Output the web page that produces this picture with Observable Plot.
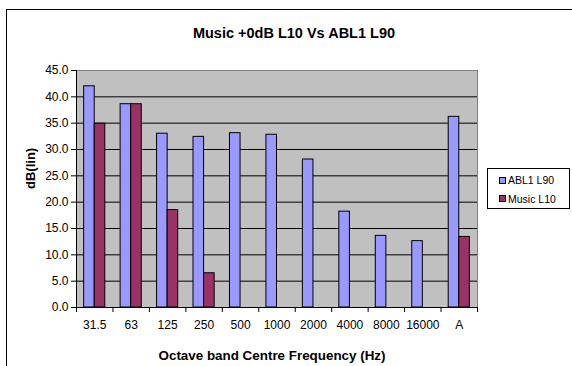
<!DOCTYPE html>
<html>
<head>
<meta charset="utf-8">
<script src="https://cdn.jsdelivr.net/npm/d3@7"></script>
<script src="https://cdn.jsdelivr.net/npm/@observablehq/plot@0.6"></script>
<style>
  body { margin: 0; background: #fff; font-family: "Liberation Sans", Arial, sans-serif; }
  #chart { position: relative; width: 572px; height: 366px; overflow: hidden; background: #fff; }
  #chart svg { position: absolute; left: 0; top: 0; }
  #border { position: absolute; left: 6px; top: 9px; width: 640px; height: 440px; border: 1px solid #000; }
  #title { position: absolute; left: 0; top: 25px; width: 588px; text-align: center;
           font-weight: bold; font-size: 14.5px; color: #000; }
  #legend { position: absolute; left: 487px; top: 168px; width: 83px; height: 41px;
            border: 1px solid #000; background: #fff; font-size: 10.5px; color: #000; box-sizing: border-box; }
  .item { position: absolute; left: 11px; display: flex; align-items: center; white-space: nowrap; }
  .sw { width: 5px; height: 5px; border: 1px solid #000; margin-right: 2px; }
</style>
</head>
<body>
<div id="chart">
  <div id="border"></div>
  <div id="title">Music +0dB L10 Vs ABL1 L90</div>
  <div id="legend"></div>
</div>
<script>
// Octave band centre frequencies, plus the A-weighted overall level
const freqs = ["31.5", "63", "125", "250", "500", "1000", "2000", "4000", "8000", "16000", "A"];
// Background noise, ABL1 L90, dB(lin)
const abl1L90 = [42.0, 38.6, 33.0, 32.4, 33.1, 32.8, 28.1, 18.2, 13.6, 12.6, 36.2];
// Music +0dB, L10, dB(lin) (no level in the upper bands)
const musicL10 = [34.9, 38.6, 18.5, 6.5, null, null, null, null, null, null, 13.4];
const seriesNames = ["ABL1 L90", "Music L10"];
const seriesColors = ["#9999ff", "#993366"];
const yTicks = [0, 5, 10, 15, 20, 25, 30, 35, 40, 45];
const yTickLabels = ["0.0", "5.0", "10.0", "15.0", "20.0", "25.0", "30.0", "35.0", "40.0", "45.0"];

const width = 572, height = 366;
const marginLeft = 76, marginRight = 95, marginTop = 70, marginBottom = 59;
const paddingInner = 0.42, paddingOuter = 0.21;
// width of one category slot and of the bar group inside it (d3 band scale geometry)
const step = (width - marginLeft - marginRight) / (freqs.length - paddingInner + 2 * paddingOuter);
const groupWidth = step * (1 - paddingInner);

const rows = freqs.map((f, i) => ({freq: f, abl: abl1L90[i], music: musicL10[i]}));

const chart = Plot.plot({
  width, height, marginLeft, marginRight, marginTop, marginBottom,
  style: {fontFamily: "'Liberation Sans', Arial, sans-serif", color: "#000", background: "transparent"},
  x: {type: "band", domain: freqs, paddingInner, paddingOuter, round: false, axis: null},
  y: {domain: [0, 45], axis: null},
  marks: [
    Plot.frame({fill: "#c0c0c0", stroke: "#808080"}),
    Plot.gridY(yTicks.filter(v => v > 0 && v < 45), {stroke: "#000", strokeOpacity: 1, strokeWidth: 1}),
    Plot.barY(rows, {x: "freq", y: "abl", fill: seriesColors[0], stroke: "#000", strokeWidth: 1,
      insetRight: groupWidth / 2}),
    Plot.barY(rows.filter(d => d.music != null), {x: "freq", y: "music", fill: seriesColors[1], stroke: "#000", strokeWidth: 1,
      insetLeft: groupWidth / 2}),
    Plot.ruleY([0], {stroke: "#000"}),
    Plot.ruleX([freqs[0]], {dx: -step / 2, stroke: "#000"}),
    Plot.axisY({ticks: yTicks, tickFormat: d => yTickLabels[yTicks.indexOf(d)], tickSize: 5, tickPadding: 3,
      fontSize: 12, stroke: "#000", label: null}),
    // category boundary ticks
    Plot.axisX({tickSize: 5, tickFormat: () => "", dx: -step / 2, label: null, stroke: "#000"}),
    Plot.axisX({ticks: [freqs[freqs.length - 1]], tickSize: 5, tickFormat: () => "", dx: step / 2, label: null, stroke: "#000"}),
    // category labels
    Plot.axisX({tickSize: 0, tickPadding: 13, fontSize: 12, label: null}),
    Plot.text(["Octave band Centre Frequency (Hz)"], {frameAnchor: "bottom", dy: 52, dx: -5, fontWeight: "bold", fontSize: 13.4, fill: "#000"}),
    Plot.text(["dB(lin)"], {frameAnchor: "left", dx: -46, rotate: -90, fontWeight: "bold", fontSize: 13, fill: "#000"})
  ]
});
document.getElementById("chart").appendChild(chart);

const legend = document.getElementById("legend");
seriesNames.forEach((name, i) => {
  const item = document.createElement("div");
  item.className = "item";
  item.style.top = (5 + i * 18.5) + "px";
  item.innerHTML = `<span class="sw" style="background:${seriesColors[i]}"></span><span>${name}</span>`;
  legend.appendChild(item);
});
</script>
</body>
</html>
